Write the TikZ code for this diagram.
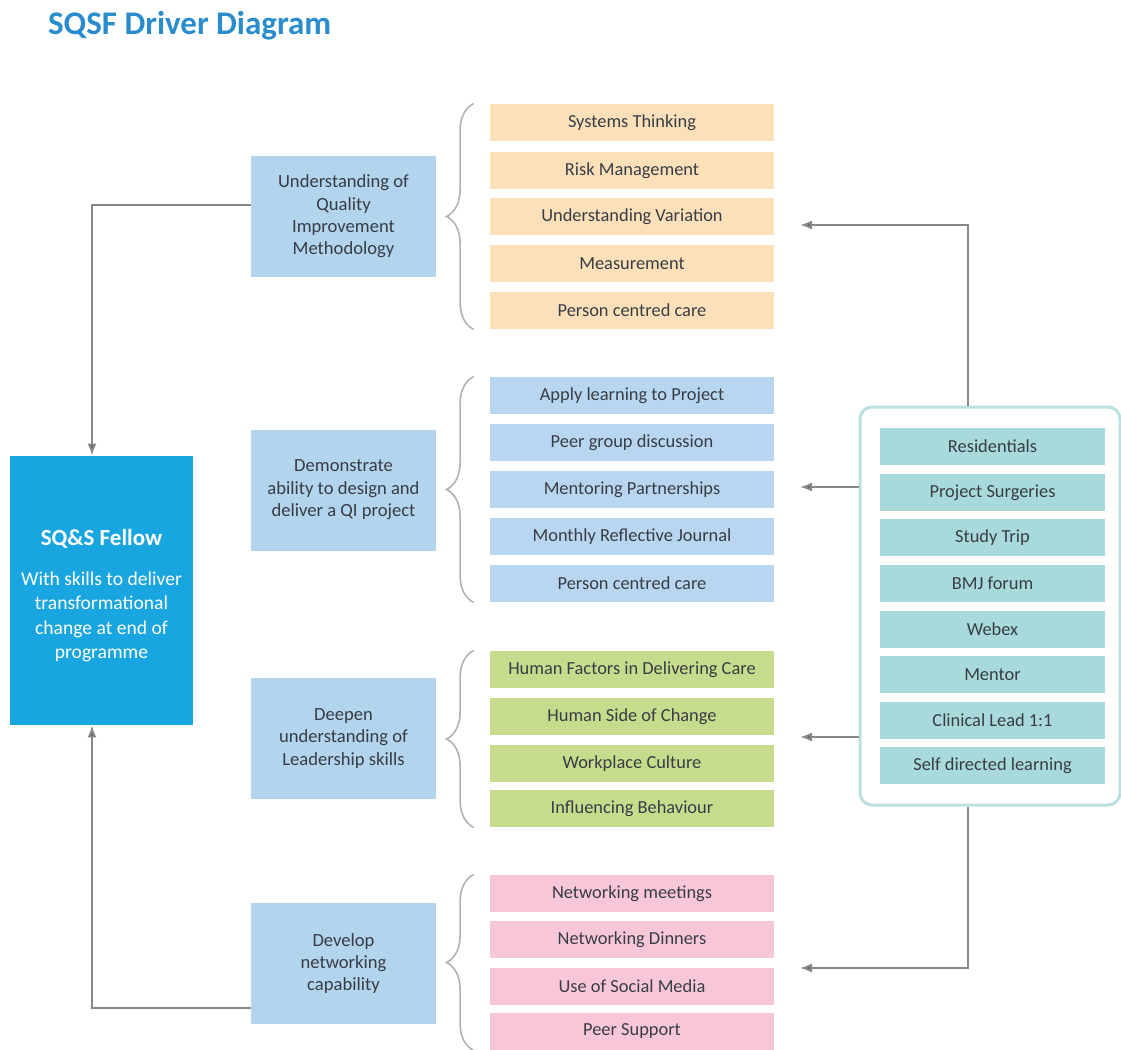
\documentclass[tikz,border=0pt]{standalone}
\usepackage{fontspec}
\setmainfont{Carlito}
\usetikzlibrary{arrows.meta,decorations.pathreplacing}

\newlength{\du}
\setlength{\du}{0.5pt}

\definecolor{titlecolor}{rgb}{0.16,0.55,0.80}
\definecolor{fellowcolor}{rgb}{0.10,0.65,0.88}
\definecolor{drivercolor}{rgb}{0.70,0.83,0.93}
\definecolor{qicolor}{rgb}{0.99,0.88,0.73}
\definecolor{projcolor}{rgb}{0.72,0.84,0.94}
\definecolor{leadcolor}{rgb}{0.78,0.86,0.55}
\definecolor{netcolor}{rgb}{0.97,0.78,0.85}
\definecolor{supportcolor}{rgb}{0.66,0.85,0.86}
\definecolor{linecolor}{rgb}{0.53,0.53,0.53}
\definecolor{tipcolor}{rgb}{0.40,0.40,0.40}
\definecolor{bracecolor}{rgb}{0.70,0.70,0.70}
\definecolor{textcolor}{rgb}{0.22,0.24,0.27}

\tikzset{
  fellow/.style={fill=fellowcolor, text=white, minimum width=183\du, minimum height=269\du,
    inner sep=0pt, align=center, font=\fontsize{9.8}{12.2}\selectfont},
  driver/.style={fill=drivercolor, text=textcolor, minimum width=185\du, minimum height=121\du,
    inner sep=0pt, align=center, font=\fontsize{9.3}{11.2}\selectfont},
  item/.style={minimum width=284\du, minimum height=37\du, inner sep=0pt, text=textcolor,
    font=\fontsize{9.2}{11}\selectfont},
  support/.style={fill=supportcolor, minimum width=225\du, minimum height=37\du, inner sep=0pt,
    text=textcolor, font=\fontsize{9.2}{11}\selectfont},
  flow/.style={draw=linecolor, line width=0.9pt, -{Latex[length=6pt,width=4.5pt,fill=tipcolor]}},
  groupbrace/.style={draw=bracecolor, line width=0.8pt, decorate,
    decoration={brace, amplitude=27\du}},
}

\begin{document}
\begin{tikzpicture}[x=1\du, y=-1\du]
\fill[white] (0,0) rectangle (1121,1050);
\useasboundingbox (0,0) rectangle (1121,1050);

\node[anchor=base west, text=titlecolor, font=\fontsize{16.5}{20}\selectfont\bfseries] (title) at (41,34) {SQSF Driver Diagram};

% outcome
\node[fellow] (fellow) at (101.5,590.5) {\rule{0pt}{13pt}{\fontsize{11.5}{12}\selectfont\bfseries SQ\&S Fellow}\\[8pt]
  With skills to deliver\\ transformational\\ change at end of\\ programme};

% primary drivers
\node[driver] (drvqi) at (343.5,216.5) {Understanding of\\ Quality\\ Improvement\\ Methodology};
\node[driver] (drvpr) at (343.5,490) {Demonstrate\\ ability to design and\\ deliver a QI project};
\node[driver] (drvld) at (343.5,738.5) {Deepen\\ understanding of\\ Leadership skills};
\node[driver] (drvnw) at (343.5,963.5) {Develop\\ networking\\ capability};

% secondary drivers
\node[item, fill=qicolor] (qi1) at (632,122.5) {Systems Thinking};
\node[item, fill=qicolor] (qi2) at (632,170.5) {Risk Management};
\node[item, fill=qicolor] (qi3) at (632,216.5) {Understanding Variation};
\node[item, fill=qicolor] (qi4) at (632,263.5) {Measurement};
\node[item, fill=qicolor] (qi5) at (632,310.5) {Person centred care};

\node[item, fill=projcolor] (pr1) at (632,395.5) {Apply learning to Project};
\node[item, fill=projcolor] (pr2) at (632,442.5) {Peer group discussion};
\node[item, fill=projcolor] (pr3) at (632,489.5) {Mentoring Partnerships};
\node[item, fill=projcolor] (pr4) at (632,536.5) {Monthly Reflective Journal};
\node[item, fill=projcolor] (pr5) at (632,583.5) {Person centred care};

\node[item, fill=leadcolor] (ld1) at (632,669.5) {Human Factors in Delivering Care};
\node[item, fill=leadcolor] (ld2) at (632,716.5) {Human Side of Change};
\node[item, fill=leadcolor] (ld3) at (632,763.5) {Workplace Culture};
\node[item, fill=leadcolor] (ld4) at (632,808.5) {Influencing Behaviour};

\node[item, fill=netcolor] (nw1) at (632,893.5) {Networking meetings};
\node[item, fill=netcolor] (nw2) at (632,939.5) {Networking Dinners};
\node[item, fill=netcolor] (nw3) at (632,986.5) {Use of Social Media};
\node[item, fill=netcolor] (nw4) at (632,1031.5) {Peer Support};

\draw[groupbrace] ([xshift=-16\du]qi5.south west) -- ([xshift=-16\du]qi1.north west);
\draw[groupbrace] ([xshift=-16\du]pr5.south west) -- ([xshift=-16\du]pr1.north west);
\draw[groupbrace] ([xshift=-16\du]ld4.south west) -- ([xshift=-16\du]ld1.north west);
\draw[groupbrace] ([xshift=-16\du]nw4.south west) -- ([xshift=-16\du]nw1.north west);

% change ideas
\node[draw=supportcolor!80, line width=1.5pt, rounded corners=12\du, minimum width=260\du,
  minimum height=398\du] (frame) at (990,606) {};
\node[support] (sp1) at (992.5,446.5) {Residentials};
\node[support] (sp2) at (992.5,492.5) {Project Surgeries};
\node[support] (sp3) at (992.5,537.5) {Study Trip};
\node[support] (sp4) at (992.5,583.5) {BMJ forum};
\node[support] (sp5) at (992.5,629.5) {Webex};
\node[support] (sp6) at (992.5,674.5) {Mentor};
\node[support] (sp7) at (992.5,720.5) {Clinical Lead 1:1};
\node[support] (sp8) at (992.5,765.5) {Self directed learning};

\coordinate (t1) at (800,225);
\coordinate (t2) at (800,487);
\coordinate (t3) at (800,737);
\coordinate (t4) at (800,968);
\draw[flow] ([xshift=-22\du]frame.north) |- (t1);
\draw[flow] (frame.west |- t2) -- (t2);
\draw[flow] (frame.west |- t3) -- (t3);
\draw[flow] ([xshift=-22\du]frame.south) |- (t4);

\draw[flow] ([yshift=11.5\du]drvqi.west) -| ([xshift=-9.5\du]fellow.north);
\draw[flow] ([yshift=-44.5\du]drvnw.west) -| ([xshift=-9.5\du]fellow.south);
\end{tikzpicture}
\end{document}
